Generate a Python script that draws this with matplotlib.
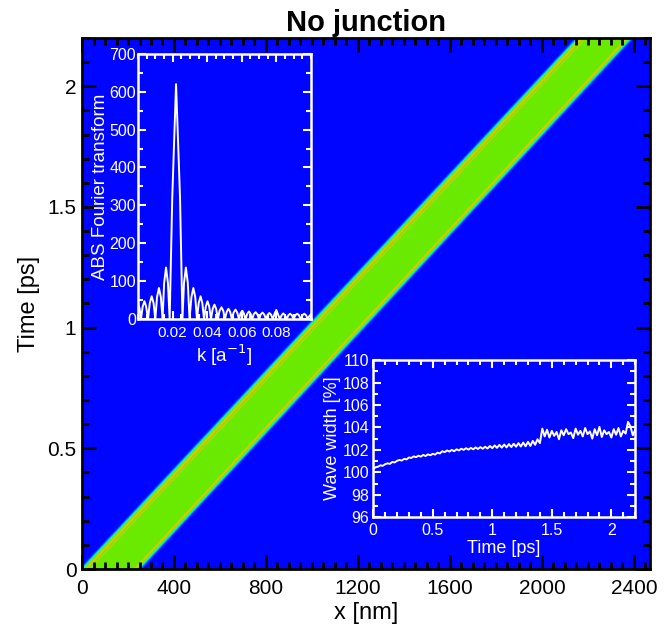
import numpy as np
import matplotlib
matplotlib.use('Agg')
import matplotlib.pyplot as plt
from matplotlib.colors import LinearSegmentedColormap
from matplotlib.ticker import MultipleLocator

plt.rcParams['font.family'] = ['Liberation Sans', 'DejaVu Sans']

# main space-time map: wave packet edges (nm) at start and end time (ps)
t_range = [0.0, 2.2]
left_edge = [4.0, 2160.0]
right_edge = [244.0, 2383.0]
x_max = 2470.0

# inset 1: |Fourier transform| vs k
ft_k = [0.0000, 0.0008, 0.0017,
        0.0027, 0.0037, 0.0047, 0.0058,
        0.0068, 0.0079, 0.0090, 0.0100,
        0.0110, 0.0121, 0.0132, 0.0142,
        0.0151, 0.0162, 0.0173, 0.0183,
        0.0198, 0.0220, 0.0243, 0.0257,
        0.0266, 0.0277, 0.0288, 0.0298,
        0.0309, 0.0320, 0.0331, 0.0341,
        0.0351, 0.0362, 0.0372, 0.0382,
        0.0392, 0.0402, 0.0412, 0.0422,
        0.0432, 0.0442, 0.0452, 0.0462,
        0.0472, 0.0483, 0.0493, 0.0503,
        0.0513, 0.0523, 0.0533, 0.0543,
        0.0553, 0.0564, 0.0574, 0.0584,
        0.0593, 0.0603, 0.0612, 0.0622,
        0.0632, 0.0642, 0.0651, 0.0661,
        0.0670, 0.0680, 0.0690, 0.0700,
        0.0710, 0.0720, 0.0730, 0.0740,
        0.0750, 0.0760, 0.0770, 0.0780,
        0.0790, 0.0800, 0.0810, 0.0821,
        0.0831, 0.0840, 0.0850, 0.0860,
        0.0870, 0.0880, 0.0890, 0.0900,
        0.0910, 0.0921, 0.0931, 0.0941,
        0.0951, 0.0962, 0.0972, 0.0982,
        0.0991, 0.1000]
ft_abs = [38, 30, 0,
          33, 47, 33, 0,
          42, 60, 42, 0,
          58, 82, 58, 0,
          95, 136, 95, 0,
          320, 620, 320, 0,
          95, 136, 95, 0,
          58, 82, 58, 0,
          42, 60, 42, 0,
          33, 47, 33, 0,
          27, 38, 27, 0,
          22, 31, 22, 0,
          19, 27, 19, 0,
          17, 25, 17, 0,
          15, 22, 15, 0,
          14, 20, 14, 0,
          13, 18, 13, 0,
          12, 17, 12, 0,
          11, 16, 11, 0,
          14, 24, 12, 0,
          10, 15, 10, 0,
          10, 14, 10, 0,
          10, 14, 10, 0,
          10, 14, 10, 0,
          8, 12]

# inset 2: wave width (%) vs time (ps), sampled every 0.02 ps
ww_time = [round(0.02 * i, 2) for i in range(111)]
ww_width = [100.30, 100.45, 100.50, 100.62, 100.58, 100.72, 100.80, 100.75, 100.92, 100.88,
            101.02, 101.10, 101.05, 101.20, 101.15, 101.32, 101.28, 101.42, 101.35, 101.48,
            101.40, 101.55, 101.45, 101.60, 101.52, 101.65, 101.58, 101.75, 101.68, 101.88,
            101.80, 101.95, 101.85, 102.00, 101.88, 102.05, 101.95, 102.10, 102.00, 102.15,
            102.02, 102.18, 102.05, 102.22, 102.08, 102.25, 102.10, 102.28, 102.12, 102.35,
            102.15, 102.40, 102.18, 102.45, 102.20, 102.48, 102.22, 102.52, 102.25, 102.55,
            102.28, 102.60, 102.30, 102.65, 102.32, 102.72, 102.35, 102.80, 102.45, 102.95,
            102.60, 103.90, 103.20, 103.80, 103.10, 103.70, 103.25, 103.60, 102.95, 103.75,
            103.30, 103.85, 103.40, 103.55, 103.05, 103.90, 103.35, 103.70, 103.20, 103.95,
            103.40, 103.65, 103.00, 103.85, 103.30, 104.05, 103.15, 103.75, 103.40, 103.60,
            103.10, 103.85, 103.35, 103.95, 103.20, 103.70, 103.45, 104.50, 104.10, 103.30,
            103.80]

# build the space-time intensity map
nx, nt = 1000, 560
xs = np.linspace(0, x_max, nx)
ts = np.linspace(t_range[0], t_range[1], nt)
X, T = np.meshgrid(xs, ts)
frac = (T - t_range[0]) / (t_range[1] - t_range[0])
xl = left_edge[0] + frac * (left_edge[1] - left_edge[0])
xr = right_edge[0] + frac * (right_edge[1] - right_edge[0])
d_left = X - xl
d_right = xr - X
d = np.minimum(d_left, d_right)
field = np.clip((d + 20) / 24, 0, 1) * 0.62
stripe = (np.abs(d_left - 14) < 5) | (np.abs(d_left - 30) < 2.5) | (np.abs(d_right - 13) < 5)
field = np.where(stripe & (d > 0), 0.8, field)

cmap = LinearSegmentedColormap.from_list('wave', [
    (0.00, (0.0, 0.02, 1.0)),
    (0.20, (0.0, 0.30, 1.0)),
    (0.35, (0.0, 0.85, 1.0)),
    (0.48, (0.15, 1.0, 0.55)),
    (0.62, (0.42, 0.92, 0.0)),
    (0.80, (0.95, 0.75, 0.0)),
    (1.00, (1.0, 0.4, 0.0)),
])

fig = plt.figure(figsize=(6.7, 6.33), dpi=100)
ax = fig.add_axes([0.1224, 0.1011, 0.8478, 0.8389])
ax.imshow(field, origin='lower', aspect='auto', cmap=cmap, vmin=0, vmax=1,
          extent=[0, x_max, t_range[0], t_range[1]], interpolation='bilinear')
ax.set_xlim(0, x_max)
ax.set_ylim(t_range[0], t_range[1])
ax.set_xticks([0, 400, 800, 1200, 1600, 2000, 2400])
ax.set_yticks([0, 0.5, 1, 1.5, 2])
ax.set_yticklabels(['0', '0.5', '1', '1.5', '2'])
ax.xaxis.set_minor_locator(MultipleLocator(50))
ax.yaxis.set_minor_locator(MultipleLocator(0.1))
ax.tick_params(which='both', direction='in', top=True, right=True, color='black', width=2)
ax.tick_params(which='major', length=10, labelsize=15)
ax.tick_params(which='minor', length=5)
ax.tick_params(axis='x', pad=7)
ax.tick_params(axis='y', pad=4)
for s in ax.spines.values():
    s.set_linewidth(2)
ax.set_xlabel('x [nm]', fontsize=17, labelpad=3)
ax.set_ylabel('Time [ps]', fontsize=17, labelpad=5)
ax.set_title('No junction', fontsize=21, fontweight='bold', pad=5)


def style_inset(a, size):
    a.set_facecolor('none')
    for s in a.spines.values():
        s.set_color('white')
        s.set_linewidth(1.8)
    a.tick_params(which='both', direction='in', top=True, right=True, color='white',
                  labelcolor='white', width=1.5)
    a.tick_params(which='major', length=6, labelsize=size)
    a.tick_params(which='minor', length=3.5)


# inset 1: Fourier transform
ax1 = fig.add_axes([0.206, 0.496, 0.258, 0.419])
ax1.plot(ft_k, ft_abs, color='white', linewidth=1.4)
ax1.set_xlim(0, 0.1)
ax1.set_ylim(0, 700)
ax1.set_xticks([0.02, 0.04, 0.06, 0.08])
ax1.set_xticklabels(['0.02', '0.04', '0.06', '0.08'])
ax1.set_yticks(range(0, 701, 100))
ax1.xaxis.set_minor_locator(MultipleLocator(0.005))
ax1.yaxis.set_minor_locator(MultipleLocator(50))
style_inset(ax1, 11.5)
ax1.tick_params(axis='x', labelsize=11)
ax1.tick_params(axis='y', pad=1.5)
ax1.tick_params(axis='x', pad=5)
ax1.set_xlabel('k [a$^{-1}$]', color='white', fontsize=13.5, labelpad=2)
ax1.set_ylabel('ABS Fourier transform', color='white', fontsize=13.5, labelpad=0)

# inset 2: wave width
ax2 = fig.add_axes([0.557, 0.183, 0.391, 0.248])
ax2.plot(ww_time, ww_width, color='white', linewidth=1.4)
ax2.set_xlim(0, 2.2)
ax2.set_ylim(96, 110)
ax2.set_xticks([0, 0.5, 1, 1.5, 2])
ax2.set_xticklabels(['0', '0.5', '1', '1.5', '2'])
ax2.set_yticks(range(96, 111, 2))
ax2.xaxis.set_minor_locator(MultipleLocator(0.1))
ax2.yaxis.set_minor_locator(MultipleLocator(1))
style_inset(ax2, 11.5)
ax2.tick_params(axis='y', pad=3)
ax2.tick_params(axis='x', pad=4)
ax2.set_xlabel('Time [ps]', color='white', fontsize=13, labelpad=2)
ax2.set_ylabel('Wave width [%]', color='white', fontsize=13, labelpad=1)

fig.savefig('out.png', dpi=100)
